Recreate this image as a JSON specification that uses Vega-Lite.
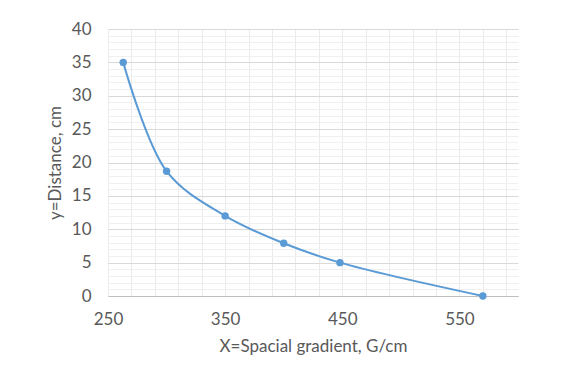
{
  "$schema": "https://vega.github.io/schema/vega-lite/v6.json",
  "width": 410,
  "height": 267,
  "autosize": {"type": "none"},
  "padding": {"left": 108, "top": 29, "right": 54, "bottom": 87},
  "background": "white",
  "config": {
    "view": {"stroke": null},
    "font": "Lato",
    "axis": {"labelColor": "#595959", "titleColor": "#595959", "labelFont": "Lato", "titleFont": "Lato", "labelFontSize": 17, "titleFontSize": 17, "titleFontWeight": "normal", "labelFlush": false}
  },
  "data": {
    "values": [
      {"x": 263, "y": 35},
      {"x": 300, "y": 18.7},
      {"x": 350, "y": 12},
      {"x": 400, "y": 7.9},
      {"x": 448, "y": 5},
      {"x": 570, "y": 0}
    ]
  },
  "layer": [
    {
      "mark": {"type": "line", "interpolate": "catmull-rom", "color": "#5B9BD5", "strokeWidth": 2},
      "encoding": {
        "x": {
          "field": "x", "type": "quantitative",
          "scale": {"domain": [250, 600], "nice": false, "zero": false},
          "axis": {"orient": "bottom", "values": [250, 270, 290, 310, 330, 350, 370, 390, 410, 430, 450, 470, 490, 510, 530, 550, 570, 590], "labels": false, "ticks": false, "domain": false, "title": null, "grid": true, "gridColor": "#ebebeb", "gridWidth": 1}
        },
        "y": {
          "field": "y", "type": "quantitative",
          "scale": {"domain": [0, 40], "nice": false, "zero": false},
          "axis": {"orient": "left", "values": [0,1,2,3,4,5,6,7,8,9,10,11,12,13,14,15,16,17,18,19,20,21,22,23,24,25,26,27,28,29,30,31,32,33,34,35,36,37,38,39,40], "labels": false, "ticks": false, "domain": false, "title": null, "grid": true, "gridColor": "#f0f0f0", "gridWidth": 1}
        }
      }
    },
    {
      "mark": {"type": "point", "filled": true, "color": "#5B9BD5", "size": 55, "opacity": 1},
      "encoding": {
        "x": {
          "field": "x", "type": "quantitative",
          "scale": {"domain": [250, 600], "nice": false, "zero": false},
          "axis": {"orient": "bottom", "values": [250, 350, 450, 550], "grid": false, "ticks": false, "domain": true, "domainColor": "#bfbfbf", "domainWidth": 1, "labelPadding": 15, "title": "X=Spacial gradient, G/cm", "titlePadding": 11}
        },
        "y": {
          "field": "y", "type": "quantitative",
          "scale": {"domain": [0, 40], "nice": false, "zero": false},
          "axis": {"orient": "left", "values": [0, 5, 10, 15, 20, 25, 30, 35, 40], "grid": true, "gridColor": "#d9d9d9", "gridWidth": 1, "ticks": false, "domain": false, "labelPadding": 17, "title": "y=Distance, cm", "titlePadding": 7}
        }
      }
    }
  ],
  "resolve": {"axis": {"x": "independent", "y": "independent"}}
}
